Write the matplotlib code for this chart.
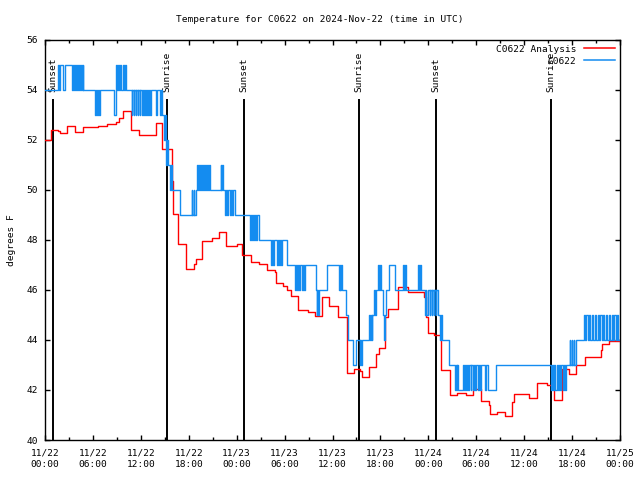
import numpy as np
import matplotlib
matplotlib.use('Agg')
import matplotlib.pyplot as plt
import matplotlib.dates as mdates

plt.rcParams['font.family'] = ['DejaVu Sans Mono']
plt.rcParams['font.size'] = 6.8

title = "Temperature for C0622 on 2024-Nov-22 (time in UTC)"
start = np.datetime64('2024-11-22T00:00:00')

# hours since 11/22 00:00 UTC (step changes) and temperatures (deg F)
red_t = [0.0, 0.75, 1.6, 1.9, 2.75, 3.75, 4.75, 6.6, 7.75, 8.9, 9.25, 9.75, 10.75, 11.75,
         13.9, 14.7, 15.85, 16.0, 16.7, 17.6, 17.7, 18.7, 18.9, 19.7, 20.85, 21.75, 22.7,
         24.0, 24.65, 25.85, 26.75, 27.8, 28.75, 28.9, 29.8, 30.3, 30.85, 31.65, 32.9,
         33.75, 34.7, 35.6, 36.75, 37.8, 38.75, 39.5, 39.7, 40.55, 41.45, 41.8, 42.55,
         42.9, 44.2, 45.4, 47.5, 47.7, 47.9, 48.75, 49.6, 50.75, 51.65, 52.7, 53.55,
         54.6, 55.6, 55.75, 56.65, 57.6, 58.5, 58.75, 60.6, 61.6, 62.8, 63.75, 64.7,
         65.6, 66.55, 67.6, 69.6, 69.8, 70.6, 72.0]
red_v = [52.0, 52.4, 52.35, 52.27, 52.55, 52.3, 52.5, 52.55, 52.62, 52.72, 52.87, 53.17,
         52.4, 52.2, 52.67, 51.63, 50.35, 49.03, 47.84, 47.37, 46.84, 47.04, 47.23, 47.96,
         48.07, 48.33, 47.77, 47.83, 47.4, 47.1, 47.05, 46.8, 46.73, 46.27, 46.16, 46.0,
         45.77, 45.2, 45.13, 44.96, 45.73, 45.36, 44.93, 42.67, 42.83, 42.75, 42.53, 42.93,
         43.44, 43.67, 44.93, 45.23, 46.1, 45.93, 45.73, 44.93, 44.27, 44.2, 42.8, 41.8,
         41.9, 41.8, 42.03, 41.57, 41.4, 41.04, 41.1, 40.95, 41.53, 41.84, 41.68, 42.27,
         42.2, 41.6, 42.83, 42.64, 43.0, 43.31, 43.6, 43.85, 43.97, 43.97]

blue_t = [0.0, 1.6, 1.7, 1.85, 2.3, 2.45, 3.35, 3.45, 3.6, 3.7, 3.85, 3.95, 4.1, 4.2, 4.35,
          4.45, 4.6, 4.7, 4.8, 6.3, 6.4, 6.55, 6.65, 6.8, 6.9, 8.64, 8.85, 9.0, 9.15, 9.3,
          9.45, 9.55, 9.75, 9.85, 10.05, 10.15, 10.85, 10.95, 11.1, 11.2, 11.35, 11.45,
          11.6, 11.7, 11.85, 11.95, 12.15, 12.25, 12.45, 12.55, 12.7, 12.8, 12.95, 13.05,
          13.2, 13.3, 13.95, 14.05, 14.4, 14.5, 14.6, 14.9, 15.0, 15.1, 15.2, 15.3, 15.45,
          15.65, 15.75, 15.9, 16.9, 18.35, 18.45, 18.6, 18.7, 18.85, 19.0, 19.15, 19.25,
          19.4, 19.5, 19.65, 19.75, 19.9, 20.0, 20.15, 20.25, 20.4, 20.5, 20.65, 22.0,
          22.1, 22.2, 22.3, 22.55, 22.65, 22.85, 22.95, 23.15, 23.25, 23.45, 23.55, 23.75,
          25.65, 25.75, 25.9, 26.0, 26.15, 26.25, 26.45, 26.55, 26.75, 28.35, 28.45, 28.6,
          28.7, 29.05, 29.15, 29.35, 29.45, 29.6, 29.7, 30.3, 31.3, 31.4, 31.55, 31.65,
          31.85, 31.95, 32.15, 32.25, 32.45, 32.55, 33.9, 34.0, 34.1, 34.2, 34.3, 35.25,
          36.8, 36.9, 37.0, 37.1, 37.2, 37.75, 37.9, 38.55, 38.95, 39.4, 39.5, 39.6, 39.7,
          40.55, 40.65, 40.8, 40.9, 41.0, 41.15, 41.3, 41.4, 41.7, 41.8, 41.9, 42.05,
          42.35, 42.45, 42.55, 42.7, 43.1, 43.8, 44.85, 44.95, 45.05, 45.2, 46.7, 46.8,
          46.9, 47.1, 47.55, 47.65, 47.75, 47.9, 48.15, 48.25, 48.4, 48.5, 48.65, 48.75,
          48.9, 49.0, 49.2, 49.5, 49.6, 49.7, 50.6, 51.35, 51.45, 51.55, 51.65, 51.75,
          52.4, 52.5, 52.6, 52.75, 52.85, 53.0, 53.1, 53.3, 53.4, 53.6, 53.7, 53.9, 54.0,
          54.2, 54.3, 54.45, 54.6, 55.15, 55.25, 55.45, 56.5, 63.3, 63.45, 63.6, 63.75,
          63.9, 64.05, 64.2, 64.35, 64.5, 64.65, 64.8, 64.95, 65.1, 65.25, 65.7, 65.8,
          65.95, 66.05, 66.2, 66.3, 66.45, 67.45, 67.6, 67.8, 67.95, 68.15, 68.3, 68.5,
          68.65, 68.85, 69.0, 69.2, 69.35, 69.55, 69.7, 69.9, 70.05, 70.25, 70.4, 70.6,
          70.75, 70.95, 71.1, 71.3, 71.45, 71.65, 71.8, 72.0]
blue_v = [54, 55, 54, 55, 54, 55, 54, 55, 54, 55, 54, 55, 54, 55, 54,
          55, 54, 55, 54, 53, 54, 53, 54, 53, 54, 53, 55, 54, 55, 54,
          55, 54, 55, 54, 55, 54, 53, 54, 53, 54, 53, 54,
          53, 54, 53, 54, 53, 54, 53, 54, 53, 54, 53, 54,
          53, 54, 53, 54, 53, 54, 53, 52, 53, 52, 51, 52, 51,
          50, 51, 50, 49, 50, 49, 50, 49, 50, 51, 50, 51,
          50, 51, 50, 51, 50, 51, 50, 51, 50, 51, 50, 51,
          50, 51, 50, 49, 50, 49, 50, 49, 50, 49, 50, 49,
          48, 49, 48, 49, 48, 49, 48, 49, 48, 47, 48, 47,
          48, 47, 48, 47, 48, 47, 48, 47, 46, 47, 46, 47,
          46, 47, 46, 47, 46, 47, 46, 45, 46, 45, 46, 47,
          46, 47, 46, 47, 46, 45, 44, 43, 44, 43, 44, 43, 44,
          45, 44, 45, 44, 45, 46, 45, 46, 47, 46, 47, 46,
          45, 44, 45, 46, 47, 46, 47, 46, 47, 46, 47, 46,
          47, 46, 45, 46, 45, 46, 45, 46, 45, 46, 45, 46,
          45, 46, 45, 44, 45, 44, 43, 42, 43, 42, 43, 42,
          43, 42, 43, 42, 43, 42, 43, 42, 43, 42, 43, 42, 43,
          42, 43, 42, 43, 42, 43, 42, 43, 42, 43, 42, 43,
          42, 43, 42, 43, 42, 43, 42, 43, 42, 43, 44, 43,
          44, 43, 44, 43, 44, 45, 44, 45, 44, 45, 44, 45,
          44, 45, 44, 45, 44, 45, 44, 45, 44, 45, 44, 45,
          44, 45, 44, 45, 44, 45, 44, 44]

event_t = [1.03, 15.3, 24.95, 39.33, 48.97, 63.33]
event_lbl = ['Sunset', 'Sunrise', 'Sunset', 'Sunrise', 'Sunset', 'Sunrise']

def to_dt(hours):
    return start + (np.array(hours) * 3600).round().astype('timedelta64[s]')

fig = plt.figure(figsize=(6.4, 4.8), dpi=100)
ax = fig.add_axes([45/640, 40/480, 575/640, 400/480])

ev = to_dt(event_t)
ax.vlines(ev, 40, 53.65, color='black', lw=1.4, zorder=1)
for t, lbl in zip(ev, event_lbl):
    ax.text(t, 53.92, lbl, rotation=90, rotation_mode='anchor', ha='left',
            va='center', color='black', zorder=2)

ax.step(to_dt(red_t), red_v, where='post', color='#ff0000', lw=1.0,
        label='C0622 Analysis', zorder=3)
ax.step(to_dt(blue_t), blue_v, where='post', color='#148cf0', lw=1.0,
        label='C0622', zorder=4)

ax.set_xlim(start, start + np.timedelta64(72, 'h'))
ax.set_ylim(40, 56)
ax.set_yticks(range(40, 57, 2))
ax.xaxis.set_major_locator(mdates.HourLocator(byhour=[0, 6, 12, 18]))
ax.xaxis.set_minor_locator(mdates.HourLocator(byhour=[3, 9, 15, 21]))
ax.xaxis.set_major_formatter(mdates.DateFormatter('%m/%d\n%H:%M'))
ax.tick_params(which='both', direction='in', top=True, right=True, width=1)
ax.tick_params(which='major', length=3.5)
ax.tick_params(which='minor', length=2.5)
ax.tick_params(axis='x', pad=6)
ax.tick_params(axis='y', pad=5)
for lab in ax.get_xticklabels():
    lab.set_linespacing(1.35)
for s in ax.spines.values():
    s.set_linewidth(1.0)

leg = ax.legend(loc='upper right', frameon=False, markerfirst=False, handlelength=3.3,
                handletextpad=0.8, labelspacing=0.3, borderaxespad=0.2, borderpad=0.3)
for h in leg.get_lines():
    h.set_linewidth(1.1)

fig.text(0.5, 1 - 19/480, title, ha='center', va='center')
fig.text(12/640, 0.5, 'degrees F', rotation=90, ha='center', va='center')

fig.savefig('out.png', dpi=100)
